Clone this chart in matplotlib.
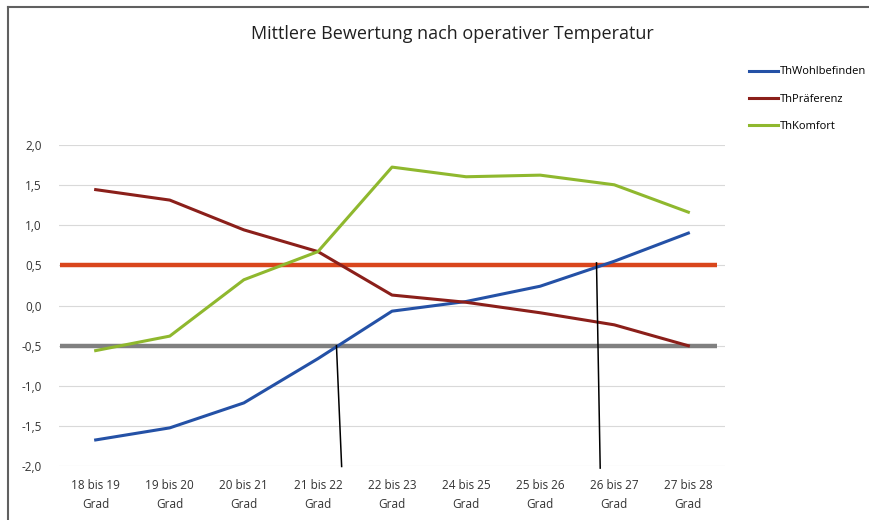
import matplotlib
matplotlib.use("Agg")
import matplotlib.pyplot as plt
from matplotlib.lines import Line2D

plt.rcParams['font.family'] = ['Open Sans', 'DejaVu Sans']

categories = ["18 bis 19\nGrad", "19 bis 20\nGrad", "20 bis 21\nGrad", "21 bis 22\nGrad",
              "22 bis 23\nGrad", "24 bis 25\nGrad", "25 bis 26\nGrad", "26 bis 27\nGrad",
              "27 bis 28\nGrad"]
wohlbefinden = [-1.67, -1.52, -1.21, -0.66, -0.07, 0.05, 0.24, 0.55, 0.90]
praeferenz = [1.44, 1.31, 0.94, 0.67, 0.13, 0.04, -0.09, -0.24, -0.50]
komfort = [-0.56, -0.38, 0.32, 0.67, 1.72, 1.60, 1.62, 1.50, 1.16]
yticks = [-2.0, -1.5, -1.0, -0.5, 0.0, 0.5, 1.0, 1.5, 2.0]
ref_upper = 0.5
ref_lower = -0.5
# helper marker lines (category position, y)
vline1_x = [3.25, 3.32]
vline1_y = [-0.5, -2.0]
vline2_x = [6.76, 6.81]
vline2_y = [0.53, -2.02]

fig = plt.figure(figsize=(8.7, 5.2), dpi=100)
ax = fig.add_axes([0.0674, 0.1029, 0.7664, 0.6191])

x = list(range(len(categories)))
for yt in yticks:
    ax.axhline(yt, color="#d9d9d9", lw=0.8, zorder=0)

ax.plot([-0.48, 8.38], [ref_upper, ref_upper], color="#d9461c", lw=3.2, solid_capstyle="butt", zorder=2)
ax.plot([-0.48, 8.38], [ref_lower, ref_lower], color="#808080", lw=3.2, solid_capstyle="butt", zorder=2)

ax.plot(x, wohlbefinden, color="#2451a6", lw=2.2, label="ThWohlbefinden", zorder=3)
ax.plot(x, praeferenz, color="#8b1f1a", lw=2.2, label="ThPräferenz", zorder=3)
ax.plot(x, komfort, color="#8fb82e", lw=2.2, label="ThKomfort", zorder=3)

ax.plot(vline1_x, vline1_y, color="black", lw=1.1, zorder=4, clip_on=False)
ax.plot(vline2_x, vline2_y, color="black", lw=1.1, zorder=4, clip_on=False)

ax.set_xlim(-0.5, 8.5)
ax.set_ylim(-2.0, 2.0)
ax.set_xticks(x)
ax.set_xticklabels(categories, fontsize=8.5, color="#333333", linespacing=1.6)
ax.set_yticks(yticks)
ax.set_yticklabels([f"{v:.1f}".replace(".", ",") for v in yticks], fontsize=8.5, color="#333333")
ax.tick_params(axis="both", length=0)
ax.tick_params(axis="x", pad=9)
ax.tick_params(axis="y", pad=12)
for s in ax.spines.values():
    s.set_visible(False)

fig.text(0.52, 0.935, "Mittlere Bewertung nach operativer Temperatur", ha="center", va="center",
         fontsize=13, color="#202020")

handles = [Line2D([0], [0], color="#2451a6", lw=2.2),
           Line2D([0], [0], color="#8b1f1a", lw=2.2),
           Line2D([0], [0], color="#8fb82e", lw=2.2)]
fig.legend(handles, ["ThWohlbefinden", "ThPräferenz", "ThKomfort"], loc="upper left",
           bbox_to_anchor=(0.855, 0.883), frameon=False, fontsize=8, handlelength=2.6,
           handletextpad=0.15, labelspacing=1.45, borderpad=0)

# figure frame lines (top and left)
fig.add_artist(Line2D([0.009, 0.009], [0.0, 0.987], color="#606060", lw=1.5, transform=fig.transFigure))
fig.add_artist(Line2D([0.009, 1.0], [0.987, 0.987], color="#606060", lw=1.5, transform=fig.transFigure))

fig.savefig("out.png", dpi=100, facecolor="white")
